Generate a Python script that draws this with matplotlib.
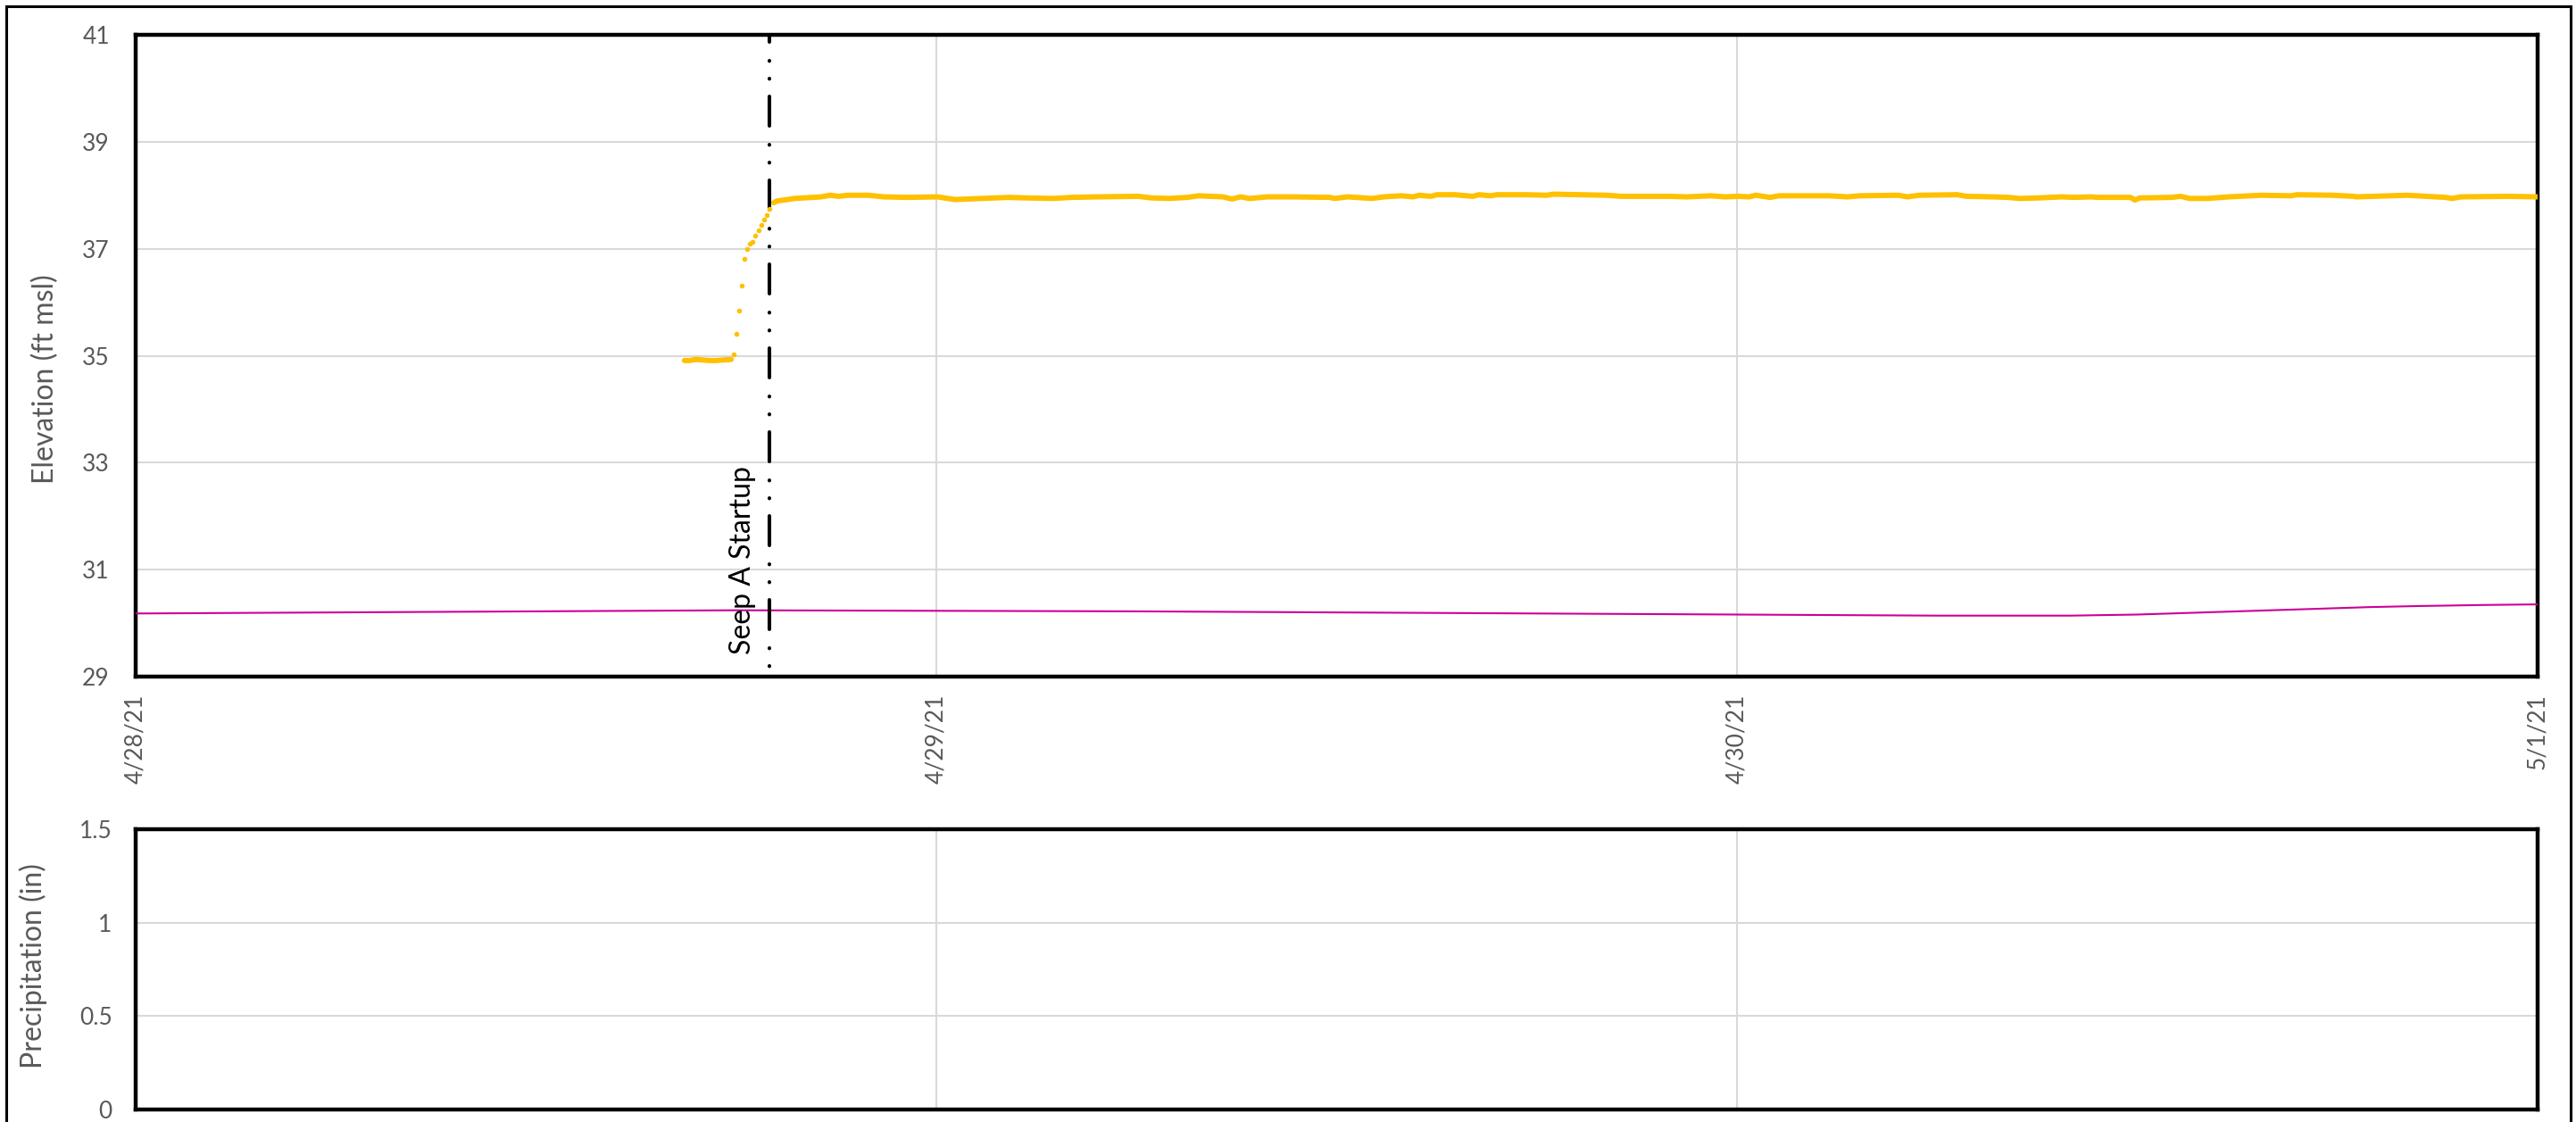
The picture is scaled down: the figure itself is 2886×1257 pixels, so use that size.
import matplotlib
matplotlib.use('Agg')
import matplotlib.pyplot as plt
from matplotlib.patches import Rectangle

plt.rcParams['font.family'] = ['Lato', 'DejaVu Sans']
plt.rcParams['lines.scale_dashes'] = False

# ---------------- data ----------------
x_tick_hours = [0, 24, 48, 72]
x_tick_labels = ['4/28/21', '4/29/21', '4/30/21', '5/1/21']
elev_ticks = [29, 31, 33, 35, 37, 39, 41]
precip_ticks = [0, 0.5, 1, 1.5]
precip_tick_labels = ['0', '0.5', '1', '1.5']

startup_hour = 19.0
startup_label = 'Seep A Startup'

# orange series (hours since 4/28/21 00:00, elevation ft msl)
orange_pre_hours = [16.45, 16.60, 16.80, 17.00, 17.20, 17.40, 17.60, 17.85]
orange_pre_vals = [34.91, 34.91, 34.93, 34.92, 34.91, 34.91, 34.92, 34.93]

orange_rise_hours = [17.92, 18.00, 18.08, 18.17, 18.25, 18.33, 18.42, 18.50,
                     18.58, 18.67, 18.75, 18.83, 18.92, 19.00]
orange_rise_vals = [35.03, 35.41, 35.85, 36.31, 36.81, 36.99, 37.09, 37.13,
                    37.24, 37.35, 37.44, 37.55, 37.63, 37.74]

orange_post_hours = [19.13, 19.21, 19.75, 20.55, 20.82, 21.08, 21.35, 21.97, 22.42, 23.14,
                     24.03, 24.56, 25.36, 26.17, 26.70, 27.51, 28.04, 28.84, 30.05, 30.45,
                     30.98, 31.52, 31.87, 32.59, 32.86, 33.12, 33.39, 33.93, 34.73, 35.80,
                     35.93, 36.33, 37.06, 37.41, 37.94, 38.29, 38.48, 38.82, 39.01, 39.54,
                     40.08, 40.27, 40.62, 40.80, 41.69, 42.30, 42.49, 43.29, 44.09, 44.55,
                     45.24, 45.97, 46.50, 47.22, 47.65, 48.03, 48.37, 48.56, 48.99, 49.26,
                     50.78, 51.32, 51.67, 52.84, 53.11, 53.46, 54.61, 54.88, 55.68, 56.13,
                     56.48, 57.02, 57.74, 58.09, 58.62, 58.81, 59.80, 59.93, 60.07, 61.03,
                     61.30, 61.57, 62.10, 62.74, 63.71, 64.62, 64.78, 65.85, 66.49, 66.57,
                     68.09, 69.24, 69.43, 69.70, 71.12, 72.00]
orange_post_vals = [37.86, 37.89, 37.94, 37.97, 38.00, 37.98, 38.00, 38.00, 37.97, 37.96,
                    37.97, 37.92, 37.94, 37.96, 37.95, 37.94, 37.96, 37.97, 37.98, 37.95,
                    37.94, 37.96, 37.99, 37.97, 37.93, 37.97, 37.94, 37.97, 37.97, 37.96,
                    37.94, 37.97, 37.94, 37.97, 37.99, 37.97, 38.00, 37.98, 38.01, 38.01,
                    37.98, 38.01, 37.99, 38.01, 38.01, 38.00, 38.02, 38.01, 38.00, 37.98,
                    37.98, 37.98, 37.97, 37.99, 37.97, 37.98, 37.97, 38.00, 37.96, 37.99,
                    37.99, 37.97, 37.99, 38.00, 37.97, 38.00, 38.01, 37.98, 37.97, 37.96,
                    37.94, 37.95, 37.97, 37.96, 37.97, 37.96, 37.96, 37.91, 37.95, 37.96,
                    37.98, 37.94, 37.94, 37.97, 38.00, 37.99, 38.01, 38.00, 37.98, 37.97,
                    38.00, 37.96, 37.94, 37.97, 37.98, 37.97]

# magenta series
magenta_hours = [0, 6, 12, 18, 24, 30, 36, 42, 48, 54, 58, 60, 62, 64, 65.5, 67, 68.5, 70.5, 72]
magenta_vals = [30.18, 30.20, 30.22, 30.24, 30.23, 30.22, 30.20, 30.18, 30.16, 30.14,
                30.14, 30.16, 30.20, 30.24, 30.27, 30.30, 30.32, 30.34, 30.35]

# precipitation (none recorded)
precip_hours = []
precip_vals = []

# ---------------- styling ----------------
ORANGE = '#FFC000'
MAGENTA = '#CC0099'
GRID = '#D9D9D9'
TXT = '#595959'

W, H = 2886, 1257
fig = plt.figure(figsize=(W / 100, H / 100), dpi=100)

left_px, right_px = 152, 2843
ax1 = fig.add_axes([left_px / W, (H - 758) / H, (right_px - left_px) / W, (758 - 39) / H])
ax2 = fig.add_axes([left_px / W, (H - 1243) / H, (right_px - left_px) / W, (1243 - 929) / H])

for ax in (ax1, ax2):
    ax.set_xlim(0, 72)
    ax.set_axisbelow(True)
    ax.grid(True, color=GRID, lw=1.5)
    for s in ax.spines.values():
        s.set_linewidth(3.2)
        s.set_color('black')
    ax.tick_params(axis='both', length=0, labelsize=19, colors=TXT)

# top panel
ax1.set_ylim(29, 41)
ax1.set_yticks(elev_ticks)
ax1.set_xticks(x_tick_hours)
ax1.set_xticklabels(x_tick_labels, rotation=90)
ax1.tick_params(axis='y', pad=21)
ax1.tick_params(axis='x', pad=14)

ax1.plot(magenta_hours, magenta_vals, color=MAGENTA, lw=1.5, zorder=3)
ax1.plot([startup_hour, startup_hour], [41, 29], color='black', lw=2.9,
         linestyle=(18, (23.76, 15.12, 0.3, 14.1, 0.3, 14.1)),
         dash_capstyle='round', zorder=4)
ax1.plot(orange_pre_hours, orange_pre_vals, color=ORANGE, lw=4.3,
         solid_capstyle='round', zorder=5)
ax1.plot(orange_rise_hours, orange_rise_vals, linestyle='none', marker='o',
         markersize=4.0, color=ORANGE, markeredgewidth=0, zorder=5)
ax1.plot(orange_post_hours, orange_post_vals, color=ORANGE, lw=4.3,
         solid_capstyle='round', solid_joinstyle='round', zorder=5)

ax1.text(18.19, 29.41, startup_label, rotation=90, ha='center', va='bottom',
         fontsize=23, color='black')

ax1.set_ylabel('Elevation (ft msl)', fontsize=23, color=TXT)
ax1.yaxis.set_label_coords((66 - left_px) / (right_px - left_px), (758 - 425) / 719)

# bottom panel
ax2.set_ylim(0, 1.5)
ax2.set_yticks(precip_ticks)
ax2.set_yticklabels(precip_tick_labels)
ax2.set_xticks(x_tick_hours)
ax2.tick_params(axis='x', labelbottom=False)
ax2.tick_params(axis='y', pad=19)
ax2.bar(precip_hours, precip_vals, width=1, color='#4472C4')
ax2.set_ylabel('Precipitation (in)', fontsize=23, color=TXT)
ax2.yaxis.set_label_coords((53 - left_px) / (right_px - left_px), (1243 - 1082) / 314)

# outer border
fig.add_artist(Rectangle((7 / W, -0.05), (2880 - 7) / W, 1.05 - 7 / H,
                         transform=fig.transFigure, fill=False,
                         edgecolor='black', lw=2.2, zorder=10))

fig.savefig('out.png', dpi=100)
